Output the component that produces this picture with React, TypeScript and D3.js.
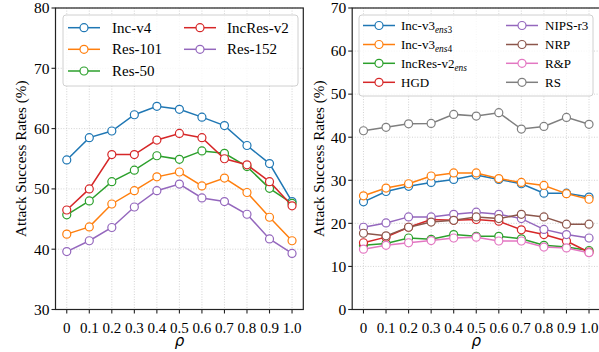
import React from "react";
import * as d3 from "d3";

const rhoValues = [0, 0.1, 0.2, 0.3, 0.4, 0.5, 0.6, 0.7, 0.8, 0.9, 1.0];
const rhoLabels = ["0", "0.1", "0.2", "0.3", "0.4", "0.5", "0.6", "0.7", "0.8", "0.9", "1.0"];

const leftNames = ["Inc-v4", "Res-101", "Res-50", "IncRes-v2", "Res-152"];
const incV4 = [54.8, 58.5, 59.6, 62.3, 63.7, 63.2, 61.9, 60.5, 57.2, 54.2, 47.9];
const res101 = [42.5, 43.7, 47.5, 49.7, 52.0, 52.8, 50.5, 51.8, 49.4, 45.3, 41.4];
const res50 = [45.7, 48.0, 51.2, 53.1, 55.5, 54.9, 56.3, 55.9, 53.7, 50.1, 47.6];
const incResV2 = [46.5, 50.0, 55.7, 55.7, 58.1, 59.2, 58.5, 55.0, 54.0, 51.2, 47.2];
const res152 = [39.6, 41.4, 43.6, 47.0, 49.7, 50.8, 48.5, 47.9, 45.8, 41.7, 39.3];
const leftTicks = [30, 40, 50, 60, 70, 80];

const rightNames = ["Inc-v3|ens3", "Inc-v3|ens4", "IncRes-v2|ens", "HGD", "NIPS-r3", "NRP", "R&P", "RS"];
const incV3ens3 = [25.0, 27.4, 28.6, 29.5, 30.2, 31.2, 30.2, 29.2, 27.0, 27.0, 26.1];
const incV3ens4 = [26.4, 28.2, 29.2, 31.0, 31.7, 31.7, 30.4, 29.5, 28.8, 26.9, 25.6];
const incResV2ens = [14.9, 15.3, 16.6, 16.3, 17.4, 17.0, 17.0, 16.4, 14.9, 14.5, 13.7];
const hgd = [15.5, 16.8, 19.1, 20.9, 20.7, 20.9, 20.5, 18.5, 17.4, 15.9, 13.3];
const nipsR3 = [19.1, 20.1, 21.5, 21.5, 22.1, 22.6, 22.1, 21.1, 18.6, 17.4, 16.6];
const nrp = [17.7, 17.1, 19.1, 20.3, 20.7, 21.5, 21.1, 22.1, 21.5, 19.8, 19.8];
const randp = [14.0, 14.9, 15.5, 16.0, 16.6, 16.8, 15.9, 15.9, 14.5, 14.3, 13.2];
const rs = [41.5, 42.3, 43.1, 43.2, 45.3, 44.9, 45.7, 41.9, 42.5, 44.6, 43.0];
const rightTicks = [0, 10, 20, 30, 40, 50, 60, 70];

const leftColors = ["#1f77b4", "#ff7f0e", "#2ca02c", "#d62728", "#9467bd"];
const rightColors = ["#1f77b4", "#ff7f0e", "#2ca02c", "#d62728", "#9467bd", "#8c564b", "#e377c2", "#7f7f7f"];

const SERIF = "'Liberation Serif', 'Times New Roman', serif";
const TOP = 8;
const BOTTOM = 309.5;

type Legend = {
  x0: number; y0: number; x1: number; y1: number;
  cols: { lineX0: number; lineX1: number; textX: number }[];
  rowY: number[]; rows: number; fontSize: number;
};

function LegendLabel({ name, x, y, fs }: { name: string; x: number; y: number; fs: number }) {
  const parts = name.split("|");
  if (parts.length === 1) {
    return <text x={x} y={y} fontSize={fs} fontFamily={SERIF} fill="#000">{name}</text>;
  }
  const sub = parts[1];
  const letters = sub.replace(/[0-9]/g, "");
  const digits = sub.replace(/[^0-9]/g, "");
  return (
    <text x={x} y={y} fontSize={fs} fontFamily={SERIF} fill="#000">
      {parts[0]}
      <tspan dy={3.5} fontSize={fs * 0.72} fontStyle="italic">{letters}</tspan>
      {digits && <tspan fontSize={fs * 0.72}>{digits}</tspan>}
    </text>
  );
}

function Panel({ left, right, domain, ticks, names, data, colors, legend, labelX }: any) {
  const x = d3.scaleLinear().domain([-0.05, 1.05]).range([left, right]);
  const y = d3.scaleLinear().domain(domain).range([BOTTOM, TOP]);
  const line = d3.line<number>().x((_, i) => x(rhoValues[i])).y((d) => y(d));
  const cy = (TOP + BOTTOM) / 2;
  return (
    <g>
      {rhoValues.map((v, i) => (
        <line key={"gx" + i} x1={x(v)} x2={x(v)} y1={TOP} y2={BOTTOM} stroke="#c8c8c8" strokeWidth={0.8} strokeDasharray="1,1.6" />
      ))}
      {ticks.map((t: number, i: number) => (
        <line key={"gy" + i} x1={left} x2={right} y1={y(t)} y2={y(t)} stroke="#c8c8c8" strokeWidth={0.8} strokeDasharray="1,1.6" />
      ))}
      {data.map((vals: number[], si: number) => (
        <g key={"s" + si}>
          <path d={line(vals) || ""} fill="none" stroke={colors[si]} strokeWidth={1.5} />
          {vals.map((v, i) => (
            <circle key={i} cx={x(rhoValues[i])} cy={y(v)} r={4} fill="#fff" stroke={colors[si]} strokeWidth={1.2} />
          ))}
        </g>
      ))}
      <rect x={left} y={TOP} width={right - left} height={BOTTOM - TOP} fill="none" stroke="#222" strokeWidth={1.2} />
      {ticks.map((t: number, i: number) => (
        <g key={"yt" + i}>
          <line x1={left - 4} x2={left} y1={y(t)} y2={y(t)} stroke="#222" strokeWidth={1.1} />
          <text x={left - 6} y={y(t) + 5.3} textAnchor="end" fontSize={15.5} fontFamily={SERIF}>{t}</text>
        </g>
      ))}
      {rhoValues.map((v, i) => (
        <g key={"xt" + i}>
          <line x1={x(v)} x2={x(v)} y1={BOTTOM} y2={BOTTOM + 4} stroke="#222" strokeWidth={1.1} />
          <text x={x(v)} y={333} textAnchor="middle" fontSize={15} fontFamily={SERIF}>{rhoLabels[i]}</text>
        </g>
      ))}
      <text x={(left + right) / 2} y={345.5} textAnchor="middle" fontSize={15} fontStyle="italic" fontFamily="'DejaVu Sans', sans-serif">ρ</text>
      <text transform={`translate(${labelX},${cy}) rotate(-90)`} textAnchor="middle" fontSize={15.2} fontFamily={SERIF}>Attack Success Rates (%)</text>
      <rect x={legend.x0} y={legend.y0} width={legend.x1 - legend.x0} height={legend.y1 - legend.y0} rx={3} fill="#fff" fillOpacity={0.8} stroke="#d0d0d0" strokeWidth={1} />
      {names.map((n: string, i: number) => {
        const c = legend.cols[Math.floor(i / legend.rows)];
        const ry = legend.rowY[i % legend.rows];
        const mx = (c.lineX0 + c.lineX1) / 2;
        return (
          <g key={"lg" + i}>
            <line x1={c.lineX0} x2={c.lineX1} y1={ry} y2={ry} stroke={colors[i]} strokeWidth={1.5} />
            <circle cx={mx} cy={ry} r={4} fill="#fff" stroke={colors[i]} strokeWidth={1.2} />
            <LegendLabel name={n} x={c.textX} y={ry + legend.fontSize * 0.33} fs={legend.fontSize} />
          </g>
        );
      })}
    </g>
  );
}

export default function App() {
  const leftLegend: Legend = {
    x0: 63, y0: 15, x1: 298, y1: 86,
    cols: [{ lineX0: 68, lineX1: 100, textX: 112 }, { lineX0: 184, lineX1: 216, textX: 227 }],
    rowY: [27.7, 49.3, 71], rows: 3, fontSize: 15,
  };
  const rightLegend: Legend = {
    x0: 359, y0: 15, x1: 593, y1: 96,
    cols: [{ lineX0: 363, lineX1: 395, textX: 401 }, { lineX0: 506, lineX1: 538, textX: 545 }],
    rowY: [25.5, 44.5, 63.3, 82.3], rows: 4, fontSize: 13,
  };
  return (
    <svg width={599} height={352} style={{ position: "absolute", left: 0, top: 0, background: "#fff" }}>
      <rect width={599} height={352} fill="#fff" />
      <Panel left={55.5} right={303.3} domain={[30, 80]} ticks={leftTicks} names={leftNames}
        data={[incV4, res101, res50, incResV2, res152]} colors={leftColors} legend={leftLegend} labelX={26} />
      <Panel left={352.2} right={600.3} domain={[0, 70]} ticks={rightTicks} names={rightNames}
        data={[incV3ens3, incV3ens4, incResV2ens, hgd, nipsR3, nrp, randp, rs]} colors={rightColors} legend={rightLegend} labelX={324} />
    </svg>
  );
}
